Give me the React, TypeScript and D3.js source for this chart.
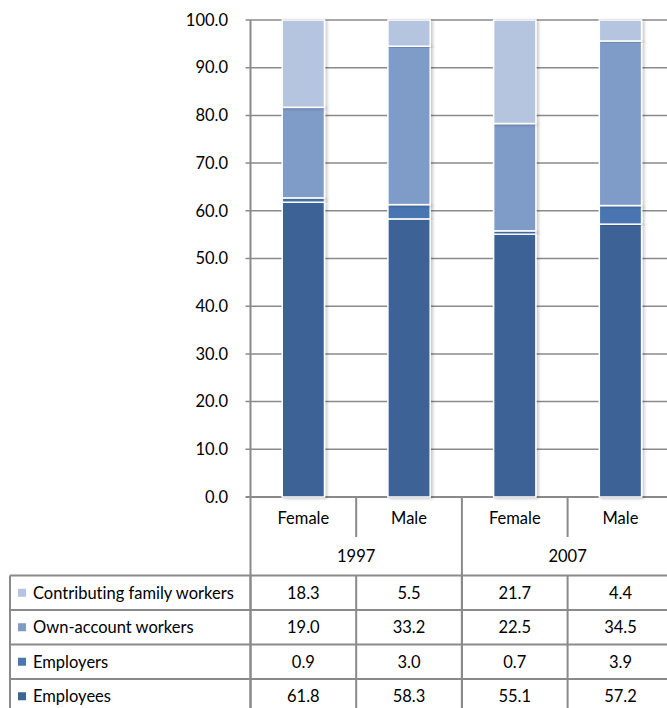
import React from "react";
import * as d3 from "d3";

const categories = ["Female", "Male", "Female", "Male"];
const years = ["1997", "2007"];
const seriesNames = ["Employees", "Employers", "Own-account workers", "Contributing family workers"];
const employees = [61.8, 58.3, 55.1, 57.2];
const employers = [0.9, 3.0, 0.7, 3.9];
const ownAccount = [19.0, 33.2, 22.5, 34.5];
const contributing = [18.3, 5.5, 21.7, 4.4];
const yTicks = [0, 10, 20, 30, 40, 50, 60, 70, 80, 90, 100];
const colors = ["#3C6496", "#4876B0", "#7F9BC8", "#B5C4DF"];

export default function App() {
  const W = 667, H = 708;
  const axisX = 250.5;
  const font = "Lato, sans-serif";
  const fs = 16.5;
  const gray = "#8a8a8a";
  const tstyle = { fontVariantLigatures: "none" as const, fontFeatureSettings: "'liga' 0" };
  const y = d3.scaleLinear().domain([0, 100]).range([497, 20]);
  const x = d3.scaleBand<number>().domain([0, 1, 2, 3]).range([axisX, axisX + 4 * 105.7]).paddingInner(0.6).paddingOuter(0.3);
  const cat = d3.scaleBand<number>().domain([0, 1, 2, 3]).range([axisX, axisX + 4 * 105.7]);
  const series = [employees, employers, ownAccount, contributing];
  const rows = d3.range(4).map((i) => {
    const o: any = { i };
    seriesNames.forEach((s, k) => (o[s] = series[k][i]));
    return o;
  });
  const stacked = d3.stack<any>().keys(seriesNames)(rows);
  const tableRows = [3, 2, 1, 0];
  const rowTop = 575.5, rowH = 34.5;
  const colEdges = [10, ...d3.range(5).map((i) => axisX + i * 105.7)];

  return (
    <svg width={W} height={H} style={{ display: "block", position: "absolute", left: 0, top: 0 }}>
      <defs>
        <filter id="sh" x="-20%" y="-5%" width="150%" height="110%">
          <feDropShadow dx="2" dy="1" stdDeviation="1.5" floodColor="#000" floodOpacity="0.22" />
        </filter>
      </defs>
      <rect width={W} height={H} fill="#fff" />
      <g fontFamily={font} fontSize={fs} fill="#000" style={tstyle}>
        {yTicks.map((t) => (
          <g key={t}>
            <line x1={axisX - 5} x2={W} y1={y(t)} y2={y(t)} stroke={gray} strokeWidth={t === 0 ? 2 : 1.5} />
            <text x={228} y={y(t)} dy="0.35em" textAnchor="end">
              {t.toFixed(1)}
            </text>
          </g>
        ))}
        {stacked.map((s, k) => (
          <g key={k}>
            {s.map((d, i) => (
              <rect
                key={i}
                x={x(i)}
                y={y(d[1])}
                width={x.bandwidth()}
                height={y(d[0]) - y(d[1])}
                fill={colors[k]}
                stroke="#fff"
                strokeWidth={1.5}
                filter="url(#sh)"
              />
            ))}
          </g>
        ))}
        <line x1={axisX} x2={axisX} y1={20} y2={H} stroke={gray} strokeWidth={2} />
        {categories.map((c, i) => (
          <g key={i}>
            {i > 0 && (
              <line x1={cat(i)} x2={cat(i)} y1={497} y2={i === 2 ? H : 537} stroke={gray} strokeWidth={2} />
            )}
            <text x={(cat(i) as number) + cat.bandwidth() / 2} y={518} dy="0.35em" textAnchor="middle">
              {c}
            </text>
          </g>
        ))}
        {years.map((yr, j) => (
          <text key={yr} x={(cat(j * 2) as number) + cat.bandwidth()} y={556} dy="0.35em" textAnchor="middle">
            {yr}
          </text>
        ))}
        {d3.range(5).map((r) => (
          <line key={r} x1={10} x2={W} y1={rowTop + r * rowH} y2={rowTop + r * rowH} stroke={gray} strokeWidth={2} />
        ))}
        {colEdges.map((cx, i) => (
          <line key={i} x1={cx} x2={cx} y1={rowTop} y2={H} stroke={gray} strokeWidth={2} />
        ))}
        {tableRows.map((k, r) => {
          const cy = rowTop + r * rowH + rowH / 2;
          return (
            <g key={k}>
              <rect x={18} y={cy - 4} width={8} height={8} fill={colors[k]} />
              <text x={33} y={cy} dy="0.35em">
                {seriesNames[k]}
              </text>
              {series[k].map((v, i) => (
                <text key={i} x={(cat(i) as number) + cat.bandwidth() / 2} y={cy} dy="0.35em" textAnchor="middle">
                  {v.toFixed(1)}
                </text>
              ))}
            </g>
          );
        })}
      </g>
    </svg>
  );
}
